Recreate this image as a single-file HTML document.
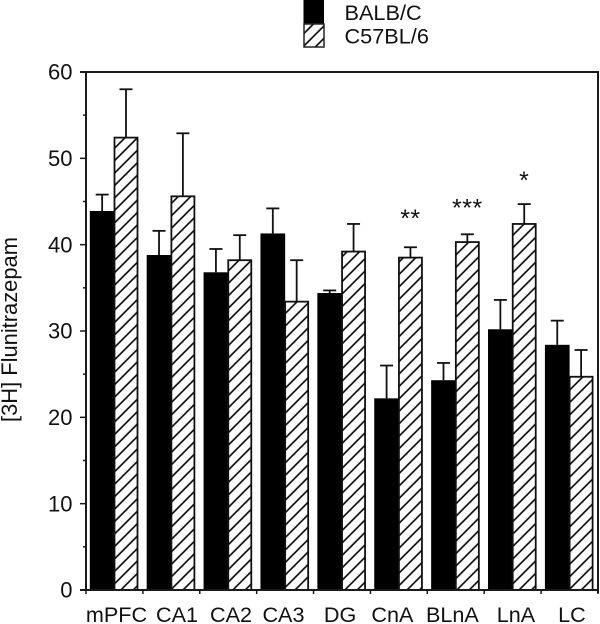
<!DOCTYPE html>
<html>
<head>
<meta charset="utf-8">
<style>
html,body{margin:0;padding:0;background:#fff;width:600px;height:624px;overflow:hidden}
svg{display:block}
text{font-family:"Liberation Sans",Arial,sans-serif;fill:#111}
</style>
</head>
<body>
<svg id="chart" width="600" height="624" viewBox="0 0 600 624" xmlns="http://www.w3.org/2000/svg">
<defs>
<pattern id="hatch" width="8.8" height="8.8" patternUnits="userSpaceOnUse" patternTransform="rotate(-45 0 0)">
<rect width="8.8" height="8.8" fill="#fff"/>
<line x1="0" y1="1" x2="8.8" y2="1" stroke="#000" stroke-width="1.6"/>
</pattern>
</defs>
<g id="plot"></g>
<g>
<rect x="303.5" y="0" width="20.5" height="24" fill="#000"/>
<rect x="304" y="24" width="20" height="23" fill="url(#hatch)" stroke="#222" stroke-width="1.5"/>
<text x="344.5" y="20" font-size="21.7">BALB/C</text>
<text x="344.5" y="43.5" font-size="21.7">C57BL/6</text>
</g>
<text x="0" y="0" transform="translate(17 422) rotate(-90)" font-size="21.9">[3H] Flunitrazepam</text>
</svg>
<script>
var categories = ["mPFC","CA1","CA2","CA3","DG","CnA","BLnA","LnA","LC"];
var balbValues = [43.9,38.8,36.8,41.3,34.4,22.2,24.3,30.2,28.4];
var balbErrorTops = [45.8,41.6,39.5,44.2,34.7,26.0,26.3,33.6,31.2];
var c57Values = [52.4,45.6,38.2,33.4,39.2,38.5,40.3,42.4,24.7];
var c57ErrorTops = [58.0,52.9,41.1,38.2,42.4,39.7,41.2,44.7,27.8];
var significance = ["","","","","","**","***","*",""];
var significanceLevels = [0,0,0,0,0,43.8,45.0,48.2,0];
var majorTicks = [0,10,20,30,40,50,60];
var minorTicks = [5,15,25,35,45,55];

var NS = "http://www.w3.org/2000/svg";
var plot = document.getElementById("plot");
var X0 = 86, X1 = 598, Y0 = 590, Y1 = 72;
var yMax = 60;
var labelNudge = [2,5.6,2.7,-1.7,-2,-6.5,-3.4,3.2,2.3];
function yScale(v){ return Y0 - (v / yMax) * (Y0 - Y1); }
function bandLeft(i){ return X0 + i * (X1 - X0) / categories.length; }
function add(tag, attrs, parent){
  var el = document.createElementNS(NS, tag);
  for (var k in attrs) el.setAttribute(k, attrs[k]);
  (parent || plot).appendChild(el);
  return el;
}
var STROKE = "#1a1a1a";

function drawError(i, cx, top, val){
  var e1 = add("line", {x1:cx, x2:cx, y1:yScale(val), y2:yScale(top), stroke:"#111", "stroke-width":1.8});
  
  
  var e2 = add("line", {x1:cx-6.5, x2:cx+6.5, y1:yScale(top), y2:yScale(top), stroke:"#111", "stroke-width":1.8});
  
  
}

categories.forEach(function(cat, i){
  var left = bandLeft(i);
  var bx = left + 3.8, bw = 24.7, hx = left + 28.5, hw = 23;
  drawError(i, bx + bw / 2, balbErrorTops[i], balbValues[i]);
  drawError(i, hx + hw / 2, c57ErrorTops[i], c57Values[i]);
  var b = add("rect", {x:bx, y:yScale(balbValues[i]), width:bw, height:Y0 - yScale(balbValues[i]), fill:"#000"});
  
  
  var h = add("rect", {x:hx, y:yScale(c57Values[i]), width:hw, height:Y0 - yScale(c57Values[i]), fill:"url(#hatch)", stroke:"#111", "stroke-width":1.8});
  
  
  var lab = add("text", {x:left + 28.5 + labelNudge[i], y:622, "text-anchor":"middle", "font-size":21.6});
  lab.textContent = cat;
  
  
  if (significance[i]) {
    var s = add("text", {x:hx + hw / 2, y:yScale(significanceLevels[i]) + 15, "text-anchor":"middle", "font-size":25, "letter-spacing":"0.5px"});
    s.textContent = significance[i];
    
    
  }
});

var frame = add("path", {d:"M"+(X0-6)+" "+Y1+"H"+X1+"V"+(Y0+3)+"M"+X0+" "+Y1+"V"+Y0+"M"+(X0-6)+" "+Y0+"H"+X1, fill:"none", stroke:STROKE, "stroke-width":2});



majorTicks.forEach(function(t){
  var y = yScale(t);
  var tk = add("line", {x1:X0-6, x2:X0, y1:y, y2:y, stroke:STROKE, "stroke-width":1.5});
  
  
  var l = add("text", {x:72.5, y:y + 7.7, "text-anchor":"end", "font-size":22});
  l.textContent = t;
  
  
});
minorTicks.forEach(function(t){
  var y = yScale(t);
  var tk = add("line", {x1:X0-3, x2:X0, y1:y, y2:y, stroke:STROKE, "stroke-width":1.5});
  
  
});
for (var j = 0; j <= categories.length; j++) {
  var tx = add("line", {x1:bandLeft(j), x2:bandLeft(j), y1:Y0, y2:Y0+4, stroke:STROKE, "stroke-width":1.5});
  
  
}
</script>
</body>
</html>
